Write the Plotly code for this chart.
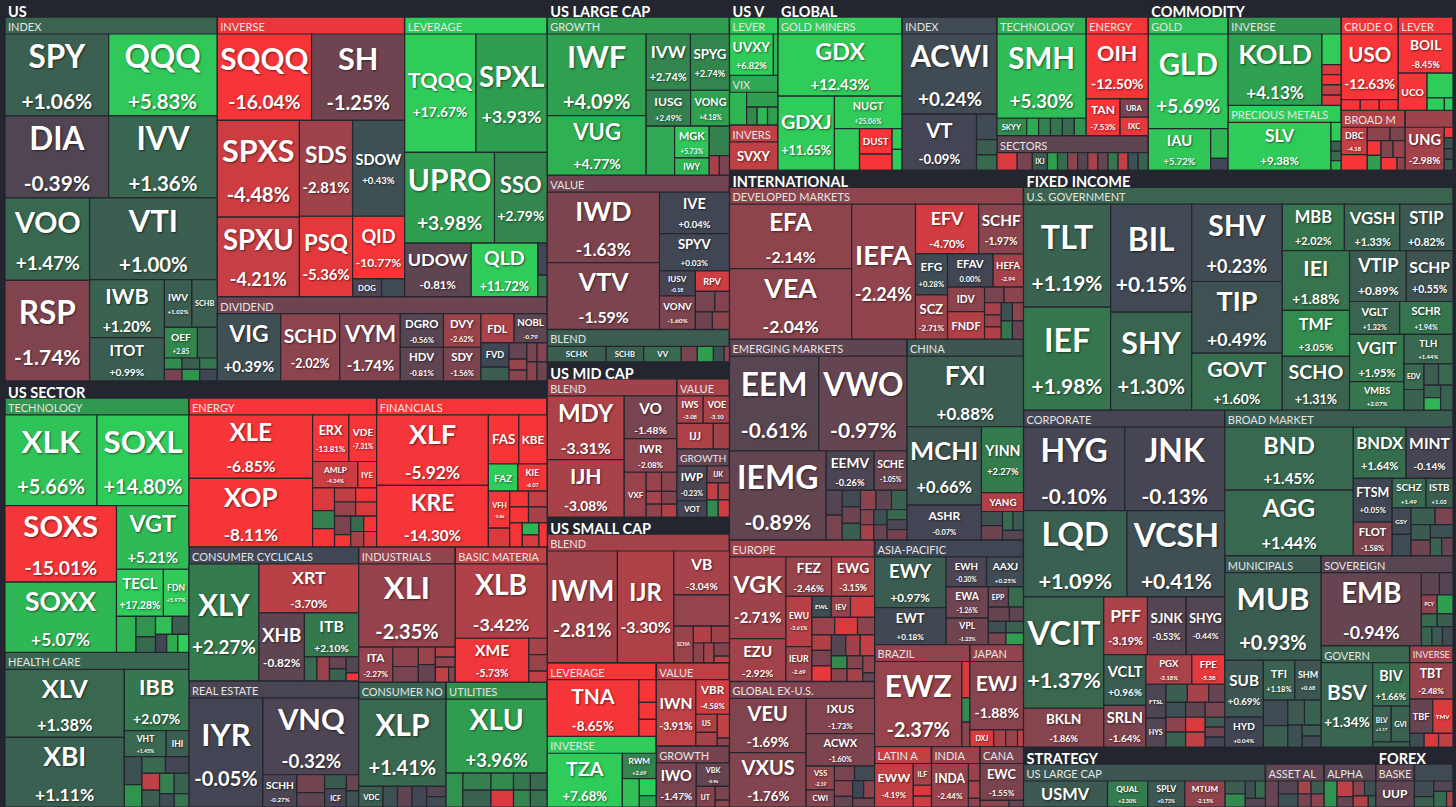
import math
import plotly.graph_objects as go

BG = "#23262e"

TOP_NAMES = ["US", "US SECTOR", "US LARGE CAP", "US MID CAP", "US SMALL CAP", "US V",
             "GLOBAL", "COMMODITY", "INTERNATIONAL", "FIXED INCOME", "STRATEGY", "FOREX"]
TOP_WEIGHTS = [2052, 2295, 655, 281, 525, 82, 626, 515, 1860, 2461, 210, 46]

# ---------------- US ----------------
US_SUBS = ["INDEX", "INVERSE", "LEVERAGE", "DIVIDEND"]
US_SUB_W = [752, 510, 388, 271]
US_TICK = [
    ["SPY", "QQQ", "DIA", "IVV", "VOO", "RSP", "VTI", "IWB", "ITOT", "IWV", "SCHB", "OEF", "", "", "", "", "", "", ""],
    ["SQQQ", "SH", "SPXS", "SPXU", "SDS", "SDOW", "PSQ", "QID", "DOG", ""],
    ["TQQQ", "SPXL", "UPRO", "SSO", "UDOW", "QLD", "", ""],
    ["VIG", "SCHD", "VYM", "DGRO", "HDV", "DVY", "SDY", "FDL", "NOBL", "FVD", "", "", "", "", "", "", "", ""],
]
US_SIZE = [
    [84, 88, 84, 88, 69, 84, 103, 43, 32, 13, 12, 10, 6, 2, 2, 2, 2, 2, 2],
    [80, 79, 78, 64, 50, 49, 42, 32, 5, 4],
    [83, 83, 80, 47, 35, 35, 3, 2],
    [44, 41, 42, 15, 15, 13, 13, 10, 10, 7, 4, 3, 2, 2, 2, 2, 2, 2],
]
US_CHG = [
    [1.06, 5.83, -0.39, 1.36, 1.47, -1.74, 1.00, 1.20, 0.99, 1.02, 1.05, 2.85, 1.2, 3.0, -1.5, 1.0, 3.5, 2.0, 0.0],
    [-16.04, -1.25, -4.48, -4.21, -2.81, 0.43, -5.36, -10.77, -0.3, 0.2],
    [17.67, 3.93, 3.98, 2.79, -0.81, 11.72, 0.0, 2.0],
    [0.39, -2.02, -1.74, -0.56, -0.81, -2.62, -1.56, -3.2, -0.79, 0.1, 1.0, -1.0, -2.5, -2.0, -1.5, -1.8, -2.0, -1.2],
]

# ---------------- US SECTOR ----------------
SEC_SUBS = ["TECHNOLOGY", "HEALTH CARE", "ENERGY", "FINANCIALS", "CONSUMER CYCLICALS", "REAL ESTATE",
            "INDUSTRIALS", "BASIC MATERIA", "CONSUMER NO", "UTILITIES"]
SEC_SUB_W = [459, 279, 274, 249, 223, 210, 128, 122, 107, 124]
SEC_TICK = [
    ["XLK", "SOXL", "SOXS", "SOXX", "VGT", "TECL", "FDN", "", "", "", "", "", "", "", ""],
    ["XLV", "XBI", "IBB", "VHT", "IHI", "", "", "", "", "", "", "", "", "", ""],
    ["XLE", "XOP", "ERX", "VDE", "AMLP", "IYE", "", "", "", "", "", "", "", "", "", "", "", "", ""],
    ["XLF", "KRE", "FAS", "KBE", "FAZ", "KIE", "VFH", "", "", "", "", "", "", "", "", ""],
    ["XLY", "XRT", "XHB", "ITB", "", "", "", "", "", ""],
    ["IYR", "VNQ", "SCHH", "", "", "", "ICF", "", ""],
    ["XLI", "ITA", "", "", "", "", "", "", "", ""],
    ["XLB", "XME", "", "", ""],
    ["XLP", "VDC", "", "", "", "", ""],
    ["XLU", "", "", "", "", "", "", "", "", ""],
]
SEC_SIZE = [
    [83, 83, 85, 78, 46, 22, 12, 7, 4, 3, 3, 3, 2, 2, 2],
    [82, 84, 40, 11, 6, 5, 4, 4, 4, 3, 3, 3, 3, 2, 2],
    [79, 85, 17, 13, 12, 5, 5, 4, 4, 3, 3, 3, 3, 3, 2, 2, 2, 2, 2],
    [79, 69, 15, 14, 8, 8, 8, 4, 3, 3, 3, 3, 3, 2, 2, 2],
    [82, 49, 31, 24, 3, 3, 2, 2, 2, 1],
    [81, 74, 11, 5, 4, 3, 4, 2, 2],
    [81, 12, 5, 4, 3, 3, 2, 2, 2, 1],
    [68, 32, 3, 3, 2],
    [76, 5, 3, 3, 3, 2, 2],
    [79, 6, 5, 5, 4, 4, 3, 3, 3, 3],
]
SEC_CHG = [
    [5.66, 14.80, -15.01, 5.07, 5.21, 17.28, 5.97, 5.0, 3.5, 1.5, 5.5, 1.0, 0.0, 4.5, 6.0],
    [1.38, 1.11, 2.07, 1.45, 1.0, 0.5, 3.5, 1.5, 0.0, -4.0, 1.0, 2.5, 1.2, 0.3, 2.0],
    [-6.85, -8.11, -13.81, -7.31, -4.34, -6.5, -5.0, 2.5, -7.0, -4.0, -6.0, -2.5, -5.0, -1.5, -6.0, 1.5, -8.0, -3.0, -5.0],
    [-5.92, -14.30, -17.5, -12.0, 17.0, -6.07, -5.86, -5.0, -7.0, -4.0, -6.0, -3.0, -8.0, 5.0, -5.0, -6.0],
    [2.27, -3.70, -0.82, 2.10, 1.5, -2.5, -1.0, 1.2, -0.5, -6.0],
    [-0.05, -0.32, -0.27, -1.3, -0.8, 0.8, -0.2, -1.0, 0.5],
    [-2.35, -2.27, -2.0, -1.5, -2.5, -1.0, -3.5, -2.2, -4.0, -1.8],
    [-3.42, -5.73, -3.0, -2.5, -4.0],
    [1.41, 1.0, 0.5, -0.8, 0.0, -0.5, 0.2],
    [3.96, 3.5, 2.5, 1.2, 3.0, -5.0, 2.0, 1.5, 2.8, 1.8],
]

# ---------------- US LARGE CAP ----------------
LC_SUBS = ["GROWTH", "VALUE", "BLEND"]
LC_SUB_W = [279, 272, 57]
LC_TICK = [
    ["IWF", "VUG", "IVW", "SPYG", "IUSG", "VONG", "", "MGK", "IWY", "", "", ""],
    ["IWD", "VTV", "IVE", "SPYV", "IUSV", "VONV", "RPV", "", "", "", ""],
    ["SCHX", "SCHB", "VV", "", "", "", ""],
]
LC_SIZE = [
    [81, 59, 25, 22, 16, 14, 14, 11, 6, 6, 2, 2],
    [79, 75, 29, 26, 9, 12, 7, 4, 3, 3, 3],
    [11, 7, 7, 3, 3, 2, 1],
]
LC_CHG = [
    [4.09, 4.77, 2.74, 2.74, 2.49, 4.18, 4.5, 5.73, 5.0, 2.5, -3.0, -1.5],
    [-1.63, -1.59, 0.04, 0.03, -0.18, -1.60, -4.5, -1.5, -1.8, -1.2, -2.0],
    [1.0, 1.0, 1.5, -1.5, 4.0, 0.5, -2.0],
]

# ---------------- US MID CAP ----------------
MC_SUBS = ["BLEND", "VALUE", "GROWTH"]
MC_SUB_W = [180, 37, 36]
MC_TICK = [
    ["MDY", "IJH", "VO", "IWR", "VXF", "", "", "", "", "", ""],
    ["IWS", "VOE", "IJJ", ""],
    ["IWP", "VOT", "IJK", "", "", "", ""],
]
MC_SIZE = [
    [50, 45, 23, 18, 10, 3, 3, 2, 2, 2, 2],
    [7, 7, 9, 4],
    [11, 5, 4, 2, 2, 2, 2],
]
MC_CHG = [
    [-3.31, -3.08, -1.48, -2.08, -2.5, -2.5, -2.0, -3.0, -2.2, -1.8, -3.5],
    [-3.08, -3.10, -3.4, -2.8],
    [-0.23, 0.0, -1.5, -4.0, -3.5, 3.0, -4.5],
]

# ---------------- US SMALL CAP ----------------
SC_SUBS = ["BLEND", "LEVERAGE", "INVERSE", "VALUE", "GROWTH"]
SC_SUB_W = [231, 79, 76, 60, 44]
SC_TICK = [
    ["IWM", "IJR", "VB", "", "SCHA", "", "", "", "", "", ""],
    ["TNA", "", "", ""],
    ["TZA", "RWM", "", "", ""],
    ["IWN", "VBR", "IJS", "", "", ""],
    ["IWO", "VBK", "IJT", "", ""],
]
SC_SIZE = [
    [77, 62, 24, 17, 7, 3, 3, 2, 2, 2, 1],
    [53, 4, 3, 3],
    [42, 9, 5, 3, 2],
    [27, 12, 4, 3, 3, 1],
    [18, 8, 4, 2, 1],
]
SC_CHG = [
    [-2.81, -3.30, -3.04, -2.4, -2.6, -3.5, -2.8, -2.0, -3.0, -1.8, -4.0],
    [-8.65, -9.0, -8.0, -7.0],
    [7.68, 2.69, 5.5, 6.0, 4.0],
    [-3.91, -4.58, -3.5, -3.0, -4.0, -2.0],
    [-1.47, -0.96, -1.8, -1.5, -2.0],
]

# ---------------- US V ----------------
UV_SUBS = ["LEVER", "VIX", "INVERS"]
UV_SUB_W = [27, 23, 21]
UV_TICK = [["UVXY", ""], ["", "", "", "", ""], ["SVXY"]]
UV_SIZE = [[19, 2], [6, 5, 2, 2, 2], [14]]
UV_CHG = [[6.82, 5.0], [5.0, 4.0, 3.0, 5.0, 4.0], [-4.0]]

# ---------------- GLOBAL ----------------
GL_SUBS = ["GOLD MINERS", "INDEX", "TECHNOLOGY", "ENERGY", "SECTORS"]
GL_SUB_W = [178, 136, 99, 69, 49]
GL_TICK = [
    ["GDX", "GDXJ", "NUGT", "", "DUST", "", "", ""],
    ["ACWI", "VT", "", "", ""],
    ["SMH", "SKYY", "", "", "", "", ""],
    ["OIH", "TAN", "URA", "IXC"],
    ["", "", "IXJ", "", "", "", "", "", "", "", "", "", ""],
]
GL_SIZE = [
    [74, 40, 21, 10, 8, 5, 2, 2],
    [73, 40, 5, 3, 3],
    [73, 5, 2, 2, 2, 2, 2],
    [39, 12, 5, 5],
    [4, 3, 3, 2, 2, 2, 2, 2, 2, 2, 2, 2, 2],
]
GL_CHG = [
    [12.43, 11.65, 25.06, 8.0, -20.0, -10.0, 6.0, 7.0],
    [0.24, -0.09, 0.3, 1.0, 1.5],
    [5.30, 3.0, 4.5, 2.5, 2.0, 1.5, 3.5],
    [-12.50, -7.53, -1.5, -5.5],
    [-5.0, -1.5, 0.8, 4.0, 1.5, -2.0, -0.5, -3.0, -1.0, 2.0, -4.0, 0.5, 1.2],
]

# ---------------- COMMODITY ----------------
CM_SUBS = ["GOLD", "INVERSE", "PRECIOUS METALS", "CRUDE O", "LEVER", "BROAD M", ""]
CM_SUB_W = [115, 94, 69, 50, 48, 36, 27]
CM_TICK = [
    ["GLD", "IAU", "", ""],
    ["KOLD", "", "", "", "", ""],
    ["SLV", "", "", "", ""],
    ["USO", "", "", ""],
    ["BOIL", "UCO", "", "", ""],
    ["DBC", "", "", "", "", "", "", "", "", ""],
    ["UNG", "", "", "", ""],
]
CM_SIZE = [
    [73, 25, 5, 2],
    [68, 6, 2, 2, 2, 2],
    [50, 2, 1, 1, 1],
    [37, 2, 2, 2],
    [20, 10, 6, 2, 1],
    [7, 4, 3, 2, 2, 2, 2, 2, 2, 1],
    [18, 1, 1, 1, 1],
]
CM_CHG = [
    [5.69, 5.72, 5.0, 0.0],
    [4.13, 6.0, -5.0, -6.0, -4.0, -5.0],
    [9.38, 6.0, 1.0, 1.5, 5.0],
    [-12.63, -10.0, -8.0, -12.0],
    [-8.45, -20.0, 8.0, 6.0, 7.0],
    [-4.18, -7.0, -2.0, -1.5, -6.0, 4.0, -1.8, -2.5, -7.0, -2.0],
    [-2.98, -6.0, 0.5, 0.3, 0.8],
]

# ---------------- INTERNATIONAL ----------------
IN_SUBS = ["DEVELOPED MARKETS", "EMERGING MARKETS", "CHINA", "EUROPE", "GLOBAL EX-U.S.", "ASIA-PACIFIC",
           "BRAZIL", "JAPAN", "LATIN A", "INDIA", "CANA"]
IN_SUB_W = [441, 352, 231, 203, 180, 154, 96, 54, 34, 29, 26]
IN_TICK = [
    ["EFA", "VEA", "IEFA", "EFV", "SCHF", "EFG", "SCZ", "EFAV", "HEFA", "IDV", "FNDF", "", "", "", "", "", "", "", "", ""],
    ["EEM", "VWO", "IEMG", "EEMV", "SCHE", "", "", "", "", "", "", "", "", "", "", "", "", "", "", ""],
    ["FXI", "MCHI", "ASHR", "YINN", "YANG", "", "", "", "", ""],
    ["VGK", "EZU", "FEZ", "EWG", "EWU", "IEUR", "EWL", "IEV", "", "", "", "", "", "", "", "", "", "", "", "", "", "", "", ""],
    ["VEU", "VXUS", "IXUS", "ACWX", "VSS", "CWI", "", "", "", "", "", "", ""],
    ["EWY", "EWT", "EWH", "AAXJ", "EWA", "VPL", "EPP", "", "", "", "", "", "", ""],
    ["EWZ", "", "", ""],
    ["EWJ", "DXJ", "", "", ""],
    ["EWW", "ILF", "", ""],
    ["INDA", "", "", ""],
    ["EWC", "", ""],
]
IN_SIZE = [
    [78, 85, 85, 31, 22, 13, 14, 15, 10, 9, 10, 3, 3, 2, 2, 2, 2, 2, 2, 2],
    [85, 84, 86, 19, 13, 4, 4, 3, 3, 3, 3, 3, 3, 2, 2, 2, 2, 2, 2, 2],
    [83, 59, 26, 28, 8, 3, 3, 2, 2, 2],
    [46, 24, 18, 17, 13, 9, 4, 4, 5, 4, 4, 3, 3, 3, 3, 3, 3, 3, 2, 2, 2, 2, 2, 1],
    [43, 43, 25, 23, 7, 5, 3, 3, 3, 2, 2, 2, 2],
    [36, 26, 12, 11, 13, 11, 4, 3, 3, 2, 2, 2, 2, 2],
    [76, 3, 2, 2],
    [37, 4, 2, 2, 1],
    [17, 4, 2, 2],
    [16, 2, 2, 1],
    [17, 2, 1],
]
IN_CHG = [
    [-2.14, -2.04, -2.24, -4.70, -1.97, 0.28, -2.71, 0.00, -2.94, -2.0, -3.5, -1.5, -2.0, -3.0, -2.5, -3.5, 0.5, -2.0, 2.0, -1.0],
    [-0.61, -0.97, -0.89, -0.26, -1.05, -0.5, -1.5, 0.2, -1.2, 1.0, -2.0, -0.8, 1.2, -1.8, -3.0, 0.5, -1.0, 1.5, -0.3, -1.4],
    [0.88, 0.66, -0.07, 2.27, -3.5, 0.5, -1.2, 1.5, 0.8, -0.5],
    [-2.71, -2.92, -2.46, -3.15, -3.61, -2.69, 0.3, -2.5, -4.5, -2.5, -5.0, -2.0, -3.5, -1.5, -5.5, -0.5, -2.8, -4.0, 3.0, -2.0, -1.8, -3.0, -2.2, -1.0],
    [-1.69, -1.76, -1.73, -1.60, -2.19, -1.8, -1.5, 0.2, -1.8, -1.0, 0.1, -2.0, -1.2],
    [0.97, 0.18, -0.30, 0.25, -1.26, -1.23, -1.0, 1.5, -1.0, -0.8, 0.5, -1.5, 1.2, 4.0],
    [-2.37, -5.0, 3.0, -2.0],
    [-1.88, -5.0, -3.0, -2.5, -4.0],
    [-4.19, -3.0, -5.0, -4.5],
    [-2.44, -2.5, -3.0, -2.0],
    [-1.55, -2.0, -1.0],
]

# ---------------- FIXED INCOME ----------------
FI_SUBS = ["U.S. GOVERNMENT", "CORPORATE", "BROAD MARKET", "MUNICIPALS", "SOVEREIGN", "GOVERN", "INVERSE"]
FI_SUB_W = [960, 680, 333, 185, 119, 90, 44]
FI_TICK = [
    ["TLT", "IEF", "BIL", "SHY", "SHV", "TIP", "GOVT", "MBB", "VGSH", "STIP", "IEI", "TMF", "SCHO", "VTIP", "SCHP",
     "VGLT", "SCHR", "VGIT", "VMBS", "TLH", "EDV", "", "", "", "", "", ""],
    ["HYG", "JNK", "LQD", "VCSH", "VCIT", "BKLN", "PFF", "SJNK", "SHYG", "VCLT", "SRLN", "PGX", "FPE", "FTSL", "HYS",
     "", "", "", "", "", "", "", "", "", "", "", "", ""],
    ["BND", "AGG", "BNDX", "MINT", "FTSM", "FLOT", "SCHZ", "ISTB", "GSY", "", "", "", "", "", "", "", ""],
    ["MUB", "SUB", "HYD", "TFI", "SHM", "", "", "", "", "", "", ""],
    ["EMB", "", "", "PCY", "", "", "", "", "", ""],
    ["BSV", "BIV", "BLV", "GVI", ""],
    ["TBT", "TBF", "TMV", "", "", ""],
]
FI_SIZE = [
    [87, 87, 85, 77, 68, 63, 50, 28, 25, 24, 39, 30, 35, 28, 23, 16, 17, 25, 15, 14, 5, 4, 3, 3, 2, 2, 3],
    [87, 86, 92, 87, 92, 32, 26, 23, 23, 22, 18, 14, 10, 7, 6, 4, 4, 3, 3, 3, 3, 3, 3, 3, 3, 2, 2, 2],
    [81, 84, 27, 24, 17, 13, 10, 8, 5, 4, 4, 3, 3, 3, 3, 2, 2],
    [81, 21, 11, 12, 10, 6, 5, 4, 4, 3, 2, 2],
    [73, 4, 3, 3, 3, 2, 2, 2, 2, 2],
    [46, 17, 7, 7, 2],
    [16, 8, 7, 2, 2, 2],
]
FI_CHG = [
    [1.19, 1.98, 0.15, 1.30, 0.23, 0.49, 1.60, 2.02, 1.33, 0.82, 1.88, 3.05, 1.31, 0.89, 0.55, 1.32, 1.94, 1.95,
     2.07, 1.44, 1.5, 1.2, 1.0, 1.5, 1.3, 5.0, 1.1],
    [-0.10, -0.13, 1.09, 0.41, 1.37, -1.86, -3.19, -0.53, -0.44, 0.96, -1.64, -3.18, -5.38, -0.3, -0.5,
     1.0, -3.0, -1.0, 0.5, -2.0, 1.2, -0.8, -1.5, -5.0, -4.0, 0.8, -1.2, 0.0],
    [1.45, 1.44, 1.64, -0.14, 0.05, -1.58, 1.49, 1.03, 0.2, 0.3, 1.0, -1.5, 0.8, -1.2, 0.5, 1.2, -1.0],
    [0.93, 0.69, 0.04, 1.18, 0.68, 0.2, 1.0, 0.8, 1.2, 0.5, 0.9, 0.3],
    [-0.94, -0.8, -0.5, -2.0, 4.0, 1.5, 1.0, 1.2, 0.8, 0.2],
    [1.34, 1.66, 1.17, 1.2, 1.0],
    [-2.48, -1.0, -5.0, 0.3, -5.0, -4.0],
]

# ---------------- STRATEGY ----------------
ST_SUBS = ["US LARGE CAP", "ASSET AL", "ALPHA"]
ST_SUB_W = [103, 25, 22]
ST_TICK = [
    ["USMV", "QUAL", "SPLV", "MTUM", "", "", "", "", ""],
    ["", "", "", "", "", "", ""],
    ["", "", "", "", "", "", ""],
]
ST_SIZE = [
    [25, 12, 11, 12, 3, 3, 2, 2, 2],
    [4, 3, 3, 2, 2, 2, 2],
    [4, 3, 2, 2, 2, 2, 1],
]
ST_CHG = [
    [0.8, 2.30, 0.73, -2.15, 1.0, 3.0, 0.5, 1.5, -0.5],
    [-1.0, -0.5, 0.5, -3.0, -1.5, 1.0, -2.0],
    [3.5, -4.0, -1.0, -2.0, 0.5, -3.5, 1.0],
]

# ---------------- FOREX ----------------
FX_SUBS = ["BASKE", ""]
FX_SUB_W = [17, 17]
FX_TICK = [["UUP"], ["", "", "", "", ""]]
FX_SIZE = [[12], [3, 2, 2, 2, 1]]
FX_CHG = [[-0.8], [0.3, 1.0, -0.5, 1.5, -3.0]]

# Cells that show only the ticker (no change figure) in the map
TICKER_ONLY = ["DOG", "SCHB", "IWY", "RPV", "FVD", "FDL", "SCHX", "VV", "VXF", "IJJ", "VOT", "IJK", "SCHA",
               "IJS", "IJT", "SVXY", "DUST", "SKYY", "URA", "IXC", "IXJ", "UCO", "FAS", "KBE", "FAZ", "IYE",
               "IHI", "ICF", "VDC", "YANG", "FNDF", "IDV", "EWL", "IEV", "CWI", "ILF", "DXJ", "EPP", "EDV",
               "GSY", "GVI", "TMV", "TBF", "FTSL", "HYS", "PCY", "USMV", "UUP"]

GROUPS = [
    (US_SUBS, US_SUB_W, US_TICK, US_SIZE, US_CHG),
    (SEC_SUBS, SEC_SUB_W, SEC_TICK, SEC_SIZE, SEC_CHG),
    (LC_SUBS, LC_SUB_W, LC_TICK, LC_SIZE, LC_CHG),
    (MC_SUBS, MC_SUB_W, MC_TICK, MC_SIZE, MC_CHG),
    (SC_SUBS, SC_SUB_W, SC_TICK, SC_SIZE, SC_CHG),
    (UV_SUBS, UV_SUB_W, UV_TICK, UV_SIZE, UV_CHG),
    (GL_SUBS, GL_SUB_W, GL_TICK, GL_SIZE, GL_CHG),
    (CM_SUBS, CM_SUB_W, CM_TICK, CM_SIZE, CM_CHG),
    (IN_SUBS, IN_SUB_W, IN_TICK, IN_SIZE, IN_CHG),
    (FI_SUBS, FI_SUB_W, FI_TICK, FI_SIZE, FI_CHG),
    (ST_SUBS, ST_SUB_W, ST_TICK, ST_SIZE, ST_CHG),
    (FX_SUBS, FX_SUB_W, FX_TICK, FX_SIZE, FX_CHG),
]

# finviz-like diverging palette (saturating at +/-6%)
STOPS = [(-6, (246, 53, 56)), (-4, (191, 64, 69)), (-2, (139, 68, 78)), (0, (65, 69, 84)),
         (2, (53, 118, 78)), (4, (47, 158, 79)), (6, (48, 204, 90))]

FONT = "Lato, 'Open Sans', sans-serif"
HEADER_PAD = 17
CLEAR = "rgba(0,0,0,0)"
BLANK = " "
W, H = 1456, 807


def color_for(c):
    c = max(-6.0, min(6.0, c))
    for (a, ca), (b, cb) in zip(STOPS, STOPS[1:]):
        if a <= c <= b:
            t = (c - a) / (b - a)
            return "#%02x%02x%02x" % tuple(int(round(ca[i] + t * (cb[i] - ca[i]))) for i in range(3))
    return "#414554"


def fmt_full(c):
    return "0.00%" if c == 0 else f"{c:+.2f}%"


def fmt_short(c):
    return "0.00" if c == 0 else f"{c:+.2f}"


# ---- main trace: every cell, tickers centred; group headers carry no text here ----
ids, labels, parents, values, colors, texts, fsizes, lwidths = [], [], [], [], [], [], [], []
# ---- overlay traces for left-aligned group captions ----
top_vals = []
sub_ids, sub_labels, sub_parents, sub_vals, sub_texts = [], [], [], [], []

for top, tw, (subs, subw, ticks, szs, chgs) in zip(TOP_NAMES, TOP_WEIGHTS, GROUPS):
    ids.append(top); labels.append(BLANK); parents.append(""); values.append(0)
    colors.append(BG); texts.append(BLANK); fsizes.append(11); lwidths.append(2.5)
    sub_ids.append(top); sub_labels.append(BLANK); sub_parents.append(""); sub_vals.append(0)
    sub_texts.append(BLANK)
    top_total = 0.0
    sw_total = sum(subw)
    for s, sname in enumerate(subs):
        sid = f"{top}/{s}"
        tot = sum(szs[s])
        avg = sum(a * c for a, c in zip(szs[s], chgs[s])) / tot
        ids.append(sid); labels.append(BLANK); parents.append(top); values.append(0)
        colors.append(color_for(avg)); texts.append(BLANK); fsizes.append(11); lwidths.append(1.5)
        sub_total = 0.0
        for k, (t, a, c) in enumerate(zip(ticks[s], szs[s], chgs[s])):
            v = tw * subw[s] / sw_total * a / tot
            sub_total += v
            ids.append(f"{sid}/{k}")
            labels.append(t or BLANK)
            parents.append(sid)
            values.append(v)
            colors.append(color_for(c))
            fs = max(7.0, min(40.0, 3.45 * math.sqrt(a)))
            ps = max(6, int(round(fs * 0.65)))
            if not t:
                txt = BLANK
            elif t in TICKER_ONLY or a < 6:
                txt = f"<b>{t}</b>"
            elif a < 11:
                txt = f"<b>{t}</b><br><b><span style='font-size:{ps}px'>{fmt_short(c)}</span></b>"
            else:
                txt = f"<b>{t}</b><br><b><span style='font-size:{ps}px'>{fmt_full(c)}</span></b>"
            texts.append(txt)
            fsizes.append(round(fs, 1))
            lwidths.append(1.2)
        sub_ids.append(sid); sub_labels.append(sname or BLANK); sub_parents.append(top)
        sub_vals.append(sub_total); sub_texts.append(sname or BLANK)
        top_total += sub_total
    top_vals.append(top_total)

common = dict(branchvalues="remainder", sort=False, pathbar=dict(visible=False), hoverinfo="skip",
              tiling=dict(packing="squarify", squarifyratio=1, pad=0))

main = go.Treemap(
    ids=ids, labels=labels, parents=parents, values=values,
    text=texts, texttemplate="%{text}", textposition="middle center",
    textfont=dict(family=FONT, size=fsizes, color="#ffffff", shadow="1px 1px 2px rgba(0,0,0,0.55)"),
    marker=dict(colors=colors, line=dict(color=BG, width=lwidths),
                pad=dict(t=HEADER_PAD, l=0, r=0, b=0)),
    root=dict(color=BG), **common)

# captions of the big groups (US, GLOBAL, ...)
top_caps = go.Treemap(
    ids=TOP_NAMES, labels=TOP_NAMES, parents=[""] * len(TOP_NAMES), values=top_vals,
    text=[f"<b>{n}</b>" for n in TOP_NAMES], texttemplate="%{text}", textposition="top left",
    textfont=dict(family=FONT, size=14.5, color="#ffffff"),
    marker=dict(colors=[CLEAR] * len(TOP_NAMES), line=dict(color=CLEAR, width=0),
                pad=dict(t=HEADER_PAD, l=0, r=0, b=0)),
    root=dict(color=CLEAR), **common)

# captions of the sub groups (INDEX, INVERSE, ...)
sub_caps = go.Treemap(
    ids=sub_ids, labels=sub_labels, parents=sub_parents, values=sub_vals,
    text=sub_texts, texttemplate="%{text}", textposition="top left",
    textfont=dict(family=FONT, size=11, color="#e4e4e4"),
    marker=dict(colors=[CLEAR] * len(sub_ids), line=dict(color=CLEAR, width=0),
                pad=dict(t=HEADER_PAD, l=0, r=0, b=0)),
    root=dict(color=CLEAR), **common)

fig = go.Figure([main, top_caps, sub_caps])
# the implicit (multi-root) header strip of plotly's treemap sits above the map;
# the figure is made that much taller and the page is scrolled past it.
fig.update_layout(width=W, height=H + HEADER_PAD, margin=dict(l=5, r=3, t=0, b=0),
                  paper_bgcolor=BG, plot_bgcolor=BG)

fig.write_html("out.html", config={"displayModeBar": False},
               post_script=("document.body.style.margin='0';document.body.style.overflow='hidden';"
                            "document.body.style.background='%s';"
                            "var d=document.querySelector('.plotly-graph-div');"
                            "if(d){d.style.marginTop='-%dpx';}" % (BG, HEADER_PAD)))
